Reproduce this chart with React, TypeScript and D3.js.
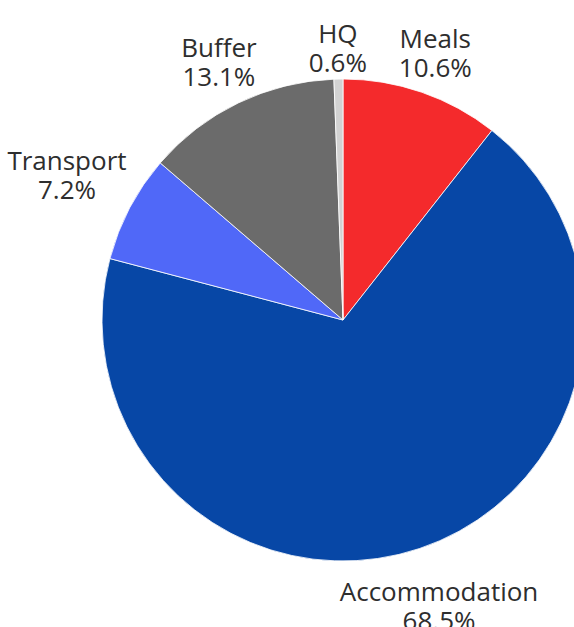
import React from "react";
import * as d3 from "d3";

const categories = ["Meals", "Accommodation", "Transport", "Buffer", "HQ"];
const shares = [10.6, 68.5, 7.2, 13.1, 0.6];
const sliceColors = ["#F42A2C", "#0747A6", "#5068F8", "#6B6B6B", "#D2D2D2"];

const W = 574;
const H = 627;
const CX = 343;
const CY = 320;
const R = 241;
const FONT_SIZE = 26;
const FONT = `${FONT_SIZE}px 'Open Sans'`;
const LINE_H = 29;
const CAP_H = 18.5;
const LABEL_R0 = 248;

let ctx: CanvasRenderingContext2D | null = null;
function measure(text: string): number {
  if (typeof document === "undefined") return text.length * FONT_SIZE * 0.55;
  if (!ctx) ctx = document.createElement("canvas").getContext("2d");
  if (!ctx) return text.length * FONT_SIZE * 0.55;
  ctx.font = FONT;
  return ctx.measureText(text).width;
}

export default function App() {
  const data = categories.map((c, i) => ({ name: c, value: shares[i], color: sliceColors[i] }));
  const pie = d3
    .pie<{ name: string; value: number; color: string }>()
    .sort(null)
    .value((d) => d.value)
    .startAngle(0)
    .endAngle(2 * Math.PI);
  const arcs = pie(data);
  const arc = d3
    .arc<d3.PieArcDatum<{ name: string; value: number; color: string }>>()
    .innerRadius(0)
    .outerRadius(R);

  return (
    <svg
      width={W}
      height={H}
      style={{ position: "absolute", left: 0, top: 0, background: "#fff" }}
    >
      <g transform={`translate(${CX},${CY})`}>
        {arcs.map((a) => (
          <path key={a.data.name} d={arc(a) || ""} fill={a.data.color} stroke="#ffffff" strokeWidth={0.8} />
        ))}
      </g>
      {arcs.map((a) => {
        const theta = (a.startAngle + a.endAngle) / 2;
        const s = Math.sin(theta);
        const c = Math.cos(theta);
        const l1 = a.data.name;
        const l2 = `${a.data.value.toFixed(1)}%`;
        const w = Math.max(measure(l1), measure(l2));
        const h = CAP_H + LINE_H;
        const rr = LABEL_R0 + Math.abs(s) * (w / 2) + Math.abs(c) * (h / 2);
        const x = CX + rr * s;
        const y = CY - rr * c;
        const b1 = y - h / 2 + CAP_H;
        return (
          <text
            key={a.data.name}
            textAnchor="middle"
            fontFamily="'Open Sans', sans-serif"
            fontSize={FONT_SIZE}
            fill="#2e2e2e"
          >
            <tspan x={x} y={b1}>{l1}</tspan>
            <tspan x={x} y={b1 + LINE_H}>{l2}</tspan>
          </text>
        );
      })}
    </svg>
  );
}
